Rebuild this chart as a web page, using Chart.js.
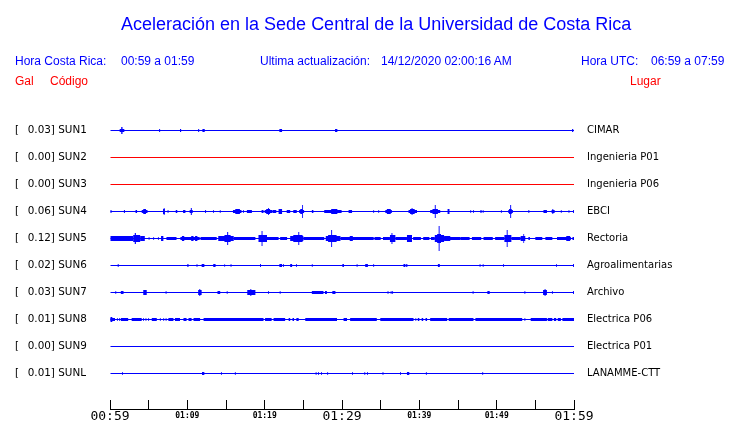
<!DOCTYPE html>
<html><head><meta charset="utf-8">
<script src="https://cdn.jsdelivr.net/npm/chart.js@4/dist/chart.umd.min.js"></script>
<style>
html,body{margin:0;padding:0;background:#fff;}
#wrap{position:relative;width:740px;height:423px;overflow:hidden;background:#fff;}
#c{position:absolute;left:0;top:0;}
.t{position:absolute;white-space:pre;font-family:"Liberation Sans",Arial,sans-serif;font-size:12px;line-height:12px;}
.b{color:#0000ff}.r{color:#ff0000}
#title{font-size:18px;line-height:18px;left:121px;top:15px}
</style></head><body>
<div id="wrap">
<canvas id="c" width="740" height="423"></canvas>
<div class="t b" id="title">Aceleración en la Sede Central de la Universidad de Costa Rica</div>
<div class="t b" style="left:15px;top:55px">Hora Costa Rica:</div>
<div class="t b" style="left:121px;top:55px">00:59 a 01:59</div>
<div class="t b" style="left:260px;top:55px">Ultima actualización:</div>
<div class="t b" style="left:381px;top:55px">14/12/2020 02:00:16 AM</div>
<div class="t b" style="left:581px;top:55px">Hora UTC:</div>
<div class="t b" style="left:651px;top:55px">06:59 a 07:59</div>
<div class="t r" style="left:15px;top:75px">Gal</div>
<div class="t r" style="left:50px;top:75px">Código</div>
<div class="t r" style="left:630px;top:75px">Lugar</div>
</div>
<script>
// ---- data (time in minutes after 00:59, amplitude in trace units) ----
const stationCodes = ['SUN1','SUN2','SUN3','SUN4','SUN5','SUN6','SUN7','SUN8','SUN9','SUNL'];
const peakGal = ['0.03','0.00','0.00','0.06','0.12','0.02','0.03','0.01','0.00','0.01'];
const places = ['CIMAR','Ingenieria P01','Ingenieria P06','EBCI','Rectoria','Agroalimentarias','Archivo','Electrica P06','Electrica P01','LANAMME-CTT'];
const timeTickLabels = ['00:59','01:09','01:19','01:29','01:39','01:49','01:59'];

// events: [start, end, amplitude]
const sun1 = [[1.25,1.85,1],[1.45,1.62,3],[6.35,6.48,1],[9.05,9.2,1],[11.4,11.53,1],[11.95,12.25,1],[21.9,22.25,1],[29.1,29.4,1],[59.75,59.9,1]];
const sun2 = [];
const sun3 = [];
const sun4 = [[0,0.2,1],[1.8,1.93,1],[3.3,3.5,1],[4.1,4.85,1],[4.3,4.65,2],
[6.85,7.1,2],[6.95,7.06,3],[7.45,7.56,1],[8.5,8.7,1],[9.45,9.75,1],
[10.3,10.7,1],[10.45,10.58,3],[12.3,12.42,1],[13.35,13.45,1],[14.2,14.3,1],
[15.9,17.0,1],[16.2,16.8,2],[17.2,17.3,1],[17.7,18.35,1],[19.6,19.85,1],
[20.0,20.95,1],[20.2,20.7,2],[20.45,20.56,3],[21.0,21.5,1],[21.8,22.25,2],
[22.85,23.3,1],[23.7,24.15,1],[24.45,25.1,1],[24.6,24.9,2],[24.85,24.96,6],
[26.1,26.3,1],[27.7,29.95,1],[28.6,29.4,2],[30.85,31.3,1],[34.05,34.15,1],
[34.7,34.8,1],[35.6,36.45,1],[35.8,36.3,2],[38.6,39.7,1],[38.8,39.4,2],
[39.0,39.12,3],[41.4,42.7,1],[41.7,42.4,2],[42.0,42.12,6],[43.65,43.9,2],
[46.6,46.7,1],[46.95,47.05,1],[47.9,48.05,1],[48.2,48.3,1],[50.55,50.65,1],
[51.5,52.1,1],[51.6,51.95,2],[51.75,51.87,6],[54.1,54.22,1],[56.05,56.5,1],
[57.1,57.5,1],[57.2,57.32,2],[58.3,58.4,1],[59.3,59.4,1],[59.88,60,1]];
const sun5 = [[0,3.0,2],[3.0,3.9,3],[3.2,3.35,5],[3.9,4.5,2],[5.0,5.1,1],[5.6,5.7,1],[6.2,6.3,1],
[6.6,6.9,2],[7.3,8.6,1],[9.1,11.6,1],[9.3,9.6,2],[10.5,10.8,2],[11.0,11.3,2],
[11.7,13.8,1],[14.0,16.0,2],[14.8,15.6,3],[15.15,15.28,6],[16.0,18.8,1],
[19.2,20.3,3],[19.6,19.72,7],[20.3,21.8,1],[22.0,22.9,1],[23.3,25.0,2],[23.7,24.9,3],[24.35,24.47,6],
[25.0,27.7,1],[27.9,29.8,2],[28.2,29.3,3],[28.6,28.72,8],[29.8,34.1,1],[31.0,31.4,2],
[34.2,35.0,1],[35.3,36.2,1],[36.2,36.9,3],[36.4,36.52,5],[36.9,38.4,1],[38.4,39.05,3],
[39.2,40.2,1],[40.5,41.3,1],[41.5,42.0,1],
[42.0,43.2,3],[42.3,42.8,4],[42.5,42.62,12],[43.2,45.3,1],[43.2,44.0,2],
[45.3,46.5,1],[46.8,48.0,1],[48.3,49.5,1],[49.8,51.0,1],
[51.0,51.9,3],[51.3,51.42,8],[51.9,53.1,1],[53.1,53.7,2],[53.45,53.55,4],[54.1,54.3,1],
[55.0,55.9,1],[56.3,57.2,1],[57.8,59.6,1],[59.0,59.5,2],[59.8,60,1]];
const sun6 = [[1.0,1.12,1],[10.0,10.15,1],[11.2,11.3,1],[11.85,12.2,1],[13.35,13.65,1],[14.8,14.88,1],[15.6,15.7,1],[19.4,19.52,1],[21.9,22.25,1],[22.4,22.5,1],[23.3,23.55,1],[24.05,24.15,1],[26.1,26.2,1],[30.05,30.25,1],[31.9,32.0,1],[33.0,33.35,1],[34.05,34.15,1],[37.95,38.2,1],[38.3,38.45,1],[42.4,42.65,1],[47.8,47.9,1],[48.2,48.3,1],[50.85,50.95,1],[57.7,57.8,1],[59.88,60,1]];
const sun7 = [[0.7,0.8,1],[1.4,1.75,1],[4.3,4.75,2],[7.2,7.3,1],[11.4,11.85,2],[11.55,11.67,3],[13.9,14.25,1],[15.1,15.2,1],[17.75,18.8,2],[18.15,18.27,3],[20.45,20.55,1],[21.95,22.05,1],[26.1,27.6,1],[27.8,28.05,1],[28.75,29.15,1],[35.9,36.0,1],[36.3,36.4,1],[36.5,36.6,1],[46.9,47.0,1],[48.8,49.1,1],[53.6,53.7,1],[56.0,56.5,2],[56.2,56.32,3],[57.15,57.25,1],[59.88,60,1]];
const sun8 = [[0,0.3,2],[0,0.65,1],[0.9,1.0,1],[1.2,1.3,1],[1.4,2.35,1],[2.8,4.1,1],[4.3,4.4,1],[4.6,4.7,1],[4.95,5.05,1],[5.4,6.05,1],[6.45,6.55,1],[6.9,7.0,1],[7.2,7.3,1],[7.55,8.2,1],[8.4,9.05,1],[9.5,9.9,1],[10.15,10.55,1],[10.8,11.65,1],[12.1,19.85,1],[20.05,20.9,1],[21.15,22.65,1],[23.1,23.3,1],[23.6,23.8,1],[24.1,24.4,1],[25.25,29.35,1],[30.2,30.65,1],[31.05,34.5,1],[34.95,39.25,1],[39.5,39.6,1],[39.8,40.0,1],[40.3,40.5,1],[40.8,41.0,1],[41.4,43.6,1],[43.8,47.0,1],[47.25,53.3,1],[53.6,53.7,1],[54.4,56.5,1],[56.6,57.2,1],[57.4,57.7,1],[57.9,58.3,1],[58.5,60,1]];
const sun9 = [];
const sunL = [[1.55,1.65,1],[11.9,12.2,1],[14.35,14.45,1],[16.15,16.25,1],[26.6,26.7,1],[26.9,27.0,1],[27.3,27.4,1],[28.1,28.2,1],[31.3,31.4,1],[32.9,33.0,1],[33.25,33.35,1],[35.25,35.35,1],[37.5,37.6,1],[38.4,38.7,1],[40.85,40.95,1],[48.15,48.25,1]];

// ---- styling / construction ----
const eventsByStation = [sun1,sun2,sun3,sun4,sun5,sun6,sun7,sun8,sun9,sunL];
const traceColors = ['#0000ff','#ff0000','#ff0000','#0000ff','#0000ff','#0000ff','#0000ff','#0000ff','#0000ff','#0000ff'];
const Y_MIN = -30.5/27, Y_MAX = 278.5/27;
const common = {borderWidth:0, inflateAmount:0, xAxisID:'x', yAxisID:'y',
  backgroundColor: ctx => traceColors[ctx.raw ? ctx.raw.y : 0]};
const datasets = [Object.assign({label:'base', barThickness:1,
  data: stationCodes.map((c,i)=>({x:[0,60], y:i}))}, common)];
const levels = [...new Set(eventsByStation.flat().map(e=>e[2]))].sort((a,b)=>b-a);
levels.forEach(a => {
  datasets.push(Object.assign({label:'amp'+a, barThickness: 2*a+1,
    data: eventsByStation.flatMap((ev,i)=>ev.filter(e=>e[2]===a).map(e=>({x:[e[0],e[1]], y:i})))}, common));
});
const stationTicks = s => { s.ticks = stationCodes.map((_,i)=>({value:i})); };
const noPad = s => { s.paddingTop = 0; s.paddingBottom = 0; s.paddingLeft = 0; s.paddingRight = 0; };

new Chart(document.getElementById('c'), {
  type:'bar',
  data:{datasets},
  options:{
    indexAxis:'y', responsive:false, animation:false, events:[],
    layout:{padding:{top:100,left:15,right:0,bottom:0}},
    plugins:{legend:{display:false}, tooltip:{enabled:false}},
    scales:{
      x:{type:'linear', position:'bottom', min:0, max:60, stacked:false, bounds:'data', offset:false,
        afterFit: s => { s.height = 14; noPad(s); },
        grid:{display:true, offset:false, drawOnChartArea:false, drawTicks:true, tickLength:-9, color:'#000', tickColor:'#000', tickWidth:1},
        border:{display:true, color:'#000', width:1},
        ticks:{stepSize:5, autoSkip:false, maxRotation:0, minRotation:0, padding:9.2, color:'#000',
          callback: v => (v % 10 === 0) ? timeTickLabels[v/10] : '',
          font: ctx => (ctx.tick && ctx.tick.value % 30 === 0)
            ? {family:'DejaVu Sans Mono', size:13, lineHeight:1.2}
            : {family:'DejaVu Sans Mono', size:8, weight:'bold', lineHeight:1.6}}},
      y:{type:'linear', position:'left', reverse:true, min:Y_MIN, max:Y_MAX, bounds:'data', stacked:true, offset:false,
        afterBuildTicks: stationTicks,
        afterFit: s => { s.width = 95; noPad(s); },
        grid:{display:false, offset:false, drawTicks:false}, border:{display:false},
        ticks:{autoSkip:false, crossAlign:'far', padding:0, color:'#000',
          font:{family:'DejaVu Sans', size:10.4},
          callback: v => '[\u2009  ' + peakGal[v] + '] ' + stationCodes[v]}},
      y2:{type:'linear', position:'right', reverse:true, min:Y_MIN, max:Y_MAX, bounds:'data', offset:false,
        afterBuildTicks: stationTicks,
        afterFit: s => { s.width = 166; noPad(s); },
        grid:{display:false, offset:false, drawTicks:false}, border:{display:false},
        ticks:{autoSkip:false, padding:13, color:'#000',
          font:{family:'DejaVu Sans', size:10},
          callback: v => places[v]}}
    }
  }
});
</script>
</body></html>
